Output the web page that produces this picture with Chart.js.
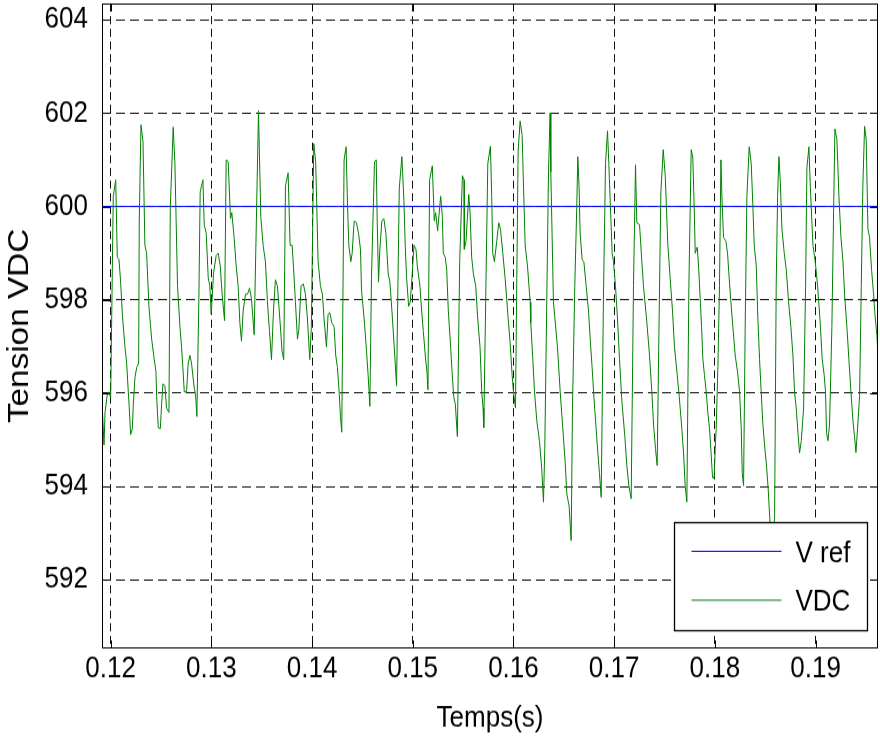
<!DOCTYPE html>
<html>
<head>
<meta charset="utf-8">
<script src="https://cdn.jsdelivr.net/npm/chart.js@4/dist/chart.umd.min.js"></script>
<style>
html,body{margin:0;padding:0;background:#fff;overflow:hidden}
#wrap{width:880px;height:737px;overflow:hidden;background:#fff}
canvas{display:block;transform:scaleY(1.1498);transform-origin:0 0}
</style>
</head>
<body>
<div id="wrap"><canvas id="c" width="880" height="641"></canvas></div>
<script>
// ---- data ----
const timeS = [
0.11917,0.11934,0.11944,0.11967,0.11983,0.12000,0.12026,0.12050,0.12066,0.12083,
0.12099,0.12116,0.12142,0.12159,0.12175,0.12185,0.12198,0.12215,0.12225,0.12241,
0.12258,0.12278,0.12284,0.12301,0.12321,0.12340,0.12357,0.12380,0.12407,0.12433,
0.12450,0.12456,0.12473,0.12493,0.12506,0.12519,0.12539,0.12555,0.12579,0.12592,
0.12621,0.12638,0.12664,0.12688,0.12704,0.12717,0.12731,0.12754,0.12770,0.12787,
0.12803,0.12830,0.12843,0.12856,0.12876,0.12889,0.12916,0.12929,0.12949,0.12969,
0.12985,0.12998,0.13008,0.13021,0.13048,0.13068,0.13088,0.13107,0.13131,0.13147,
0.13167,0.13190,0.13203,0.13226,0.13246,0.13266,0.13283,0.13299,0.13316,0.13339,
0.13359,0.13379,0.13398,0.13425,0.13468,0.13491,0.13514,0.13537,0.13557,0.13577,
0.13597,0.13617,0.13636,0.13656,0.13683,0.13702,0.13719,0.13736,0.13762,0.13782,
0.13802,0.13815,0.13835,0.13855,0.13868,0.13891,0.13914,0.13934,0.13954,0.13977,
0.13993,0.14017,0.14036,
0.14060,0.14083,0.14103,0.14119,0.14143,0.14159,0.14176,0.14196,0.14219,0.14235,
0.14252,0.14269,0.14282,0.14295,0.14318,0.14338,0.14352,0.14365,0.14385,0.14398,
0.14418,0.14441,0.14461,0.14481,0.14491,0.14517,0.14541,0.14557,0.14574,0.14590,
0.14620,0.14637,0.14647,0.14660,0.14673,0.14693,0.14713,0.14733,0.14756,0.14773,
0.14793,0.14816,0.14839,0.14866,0.14892,0.14912,0.14925,0.14939,0.14959,0.14975,
0.14992,0.15012,0.15032,0.15045,0.15071,0.15088,0.15104,0.15128,0.15141,0.15151,
0.15167,0.15194,0.15214,0.15227,0.15247,0.15277,0.15294,0.15303,0.15323,0.15337,
0.15353,0.15376,0.15390,0.15406,0.15423,0.15443,0.15466,0.15493,0.15509,0.15512,
0.15529,0.15556,0.15569,0.15585,0.15602,0.15625,0.15645,0.15668,0.15685,0.15698,
0.15705,0.15745,0.15771,0.15784,0.15794,0.15811,0.15834,0.15854,0.15871,0.15894,
0.15917,0.15944,0.15967,0.15987,0.16000,0.16020,0.16046,0.16066,0.16086,0.16116,
0.16139,0.16166,
0.16172,0.16192,0.16209,0.16232,0.16258,0.16281,0.16298,0.16311,0.16348,0.16364,
0.16371,0.16397,0.16437,0.16464,0.16490,0.16513,0.16530,0.16553,0.16573,0.16586,
0.16609,0.16629,0.16639,0.16652,0.16662,0.16682,0.16699,0.16722,0.16745,0.16762,
0.16781,0.16801,0.16821,0.16838,0.16854,0.16871,0.16894,0.16914,0.16934,0.16947,
0.16980,0.16993,0.17013,0.17033,0.17053,0.17076,0.17106,0.17126,0.17146,0.17169,
0.17192,0.17212,0.17225,0.17252,0.17275,0.17291,0.17325,0.17351,0.17374,0.17391,
0.17411,0.17427,0.17444,0.17464,0.17487,0.17507,0.17533,0.17556,0.17579,0.17599,
0.17623,0.17646,0.17672,0.17689,0.17705,0.17722,0.17742,0.17765,0.17781,0.17795,
0.17805,0.17825,0.17838,0.17854,
0.17868,0.17881,0.17897,0.17914,0.17930,0.17947,0.17960,0.17977,0.17993,0.18003,
0.18013,0.18030,0.18046,0.18060,0.18070,0.18086,0.18109,0.18126,0.18142,0.18159,
0.18179,0.18202,0.18225,0.18245,0.18262,0.18272,0.18285,0.18301,0.18318,0.18341,
0.18361,0.18377,0.18391,0.18411,0.18427,0.18444,0.18460,0.18477,0.18497,0.18513,
0.18530,0.18543,0.18563,0.18593,0.18609,0.18623,0.18636,0.18649,0.18666,0.18689,
0.18709,0.18732,0.18755,0.18775,0.18791,0.18808,0.18825,0.18841,0.18858,0.18881,
0.18901,0.18914,0.18934,0.18947,0.18974,0.18997,0.19020,0.19046,0.19066,0.19086,
0.19099,0.19109,0.19123,0.19139,0.19162,0.19179,0.19192,0.19212,0.19232,0.19252,
0.19272,0.19288,0.19311,0.19331,0.19351,0.19371,0.19387,0.19401,0.19417,0.19437,
0.19454,0.19470,0.19487,0.19503,0.19520,0.19536,0.19556,0.19576,0.19593,0.19609,
0.19626
];
const vdc = [
595.68,594.89,595.59,595.98,596.03,595.90,600.22,600.57,598.91,598.86,
598.38,597.69,596.99,596.64,596.03,595.68,595.11,595.24,595.76,596.33,
596.55,596.64,599.69,601.75,601.40,599.17,599.00,597.86,597.16,596.72,
596.46,595.94,595.26,595.24,595.76,596.20,596.16,595.68,595.59,599.96,
601.70,600.92,598.30,597.42,596.99,596.55,596.03,596.03,596.64,596.81,
596.64,596.11,595.98,595.50,598.03,600.31,600.57,599.61,599.43,598.47,
598.30,597.69,598.03,598.56,598.95,599.00,598.73,598.12,597.55,601.00,
600.96,599.74,599.87,599.34,598.73,598.30,597.51,597.12,597.77,598.12,
598.12,598.25,598.03,597.25,602.05,599.78,599.17,598.82,597.95,597.34,
596.72,597.77,598.43,598.30,597.51,596.90,596.72,600.44,600.72,599.17,
599.17,598.73,597.95,597.16,597.34,598.30,598.34,598.12,597.60,596.72,
597.42,601.35,600.96,
598.82,598.30,598.12,597.60,596.99,597.69,597.73,597.51,597.42,596.81,
596.55,596.03,595.50,595.17,601.00,601.28,600.04,599.17,598.82,599.00,
599.69,599.65,599.43,599.08,598.21,597.60,596.90,596.38,595.72,598.47,
600.96,601.00,599.69,598.38,599.08,599.69,599.74,599.43,598.56,598.38,
597.77,596.99,596.16,600.39,601.07,600.13,599.17,598.47,597.86,597.95,
598.47,599.17,599.08,598.73,598.30,597.77,597.34,596.72,596.46,596.07,
600.57,600.87,599.69,599.87,599.48,600.22,599.78,599.00,598.91,598.65,
597.77,596.99,596.46,595.94,595.76,595.07,598.82,600.66,600.57,599.08,
599.26,600.26,599.87,598.91,598.56,598.30,597.60,596.99,596.03,595.68,
595.26,600.92,601.29,600.22,599.00,598.82,599.26,599.65,599.52,599.00,
598.47,597.69,597.07,596.38,596.03,595.68,601.18,601.83,601.53,599.17,
598.73,597.95,
597.51,596.72,596.03,595.41,594.98,594.37,593.67,594.80,600.74,602.01,
600.74,597.95,596.99,596.03,595.24,594.54,593.84,593.58,592.84,595.68,
598.30,600.04,601.07,600.39,599.43,598.86,598.82,598.30,597.77,597.16,
596.55,595.85,595.24,594.72,594.28,593.77,598.12,600.92,601.62,600.92,
599.00,598.82,598.30,597.60,596.72,595.85,595.07,594.45,594.02,593.74,
598.30,600.89,599.65,599.61,598.82,598.30,597.51,596.81,596.03,595.33,
594.80,594.45,597.25,600.31,601.22,600.66,599.17,598.47,597.77,596.99,
596.46,595.94,595.24,594.72,594.02,593.67,598.30,601.22,601.05,599.96,
599.00,599.13,598.73,598.03,
597.42,596.72,596.38,596.03,595.59,595.24,594.80,594.19,594.19,594.80,
595.24,596.55,598.30,601.00,600.22,599.34,599.26,599.00,598.47,597.95,
597.42,596.81,596.46,596.03,595.24,594.28,594.02,597.42,600.22,601.28,
600.92,600.04,599.17,598.73,597.60,596.72,596.03,595.33,594.80,594.45,
593.93,593.41,592.71,593.32,598.30,600.22,601.07,600.57,599.52,599.00,
598.65,597.95,597.42,596.81,596.03,595.68,595.15,594.72,594.98,595.68,
598.30,600.83,601.28,600.48,599.17,598.82,598.30,597.51,596.72,596.38,
596.03,595.15,594.98,595.33,597.42,599.87,601.66,601.44,600.22,599.34,
598.82,598.12,597.42,596.72,596.03,595.41,595.07,594.73,595.24,595.94,
598.30,600.48,601.72,601.44,599.52,599.34,598.65,598.12,597.60,597.25,
596.55
];
const vrefTime = [0.119, 0.197];
const vrefValue = [600, 600];
const xTicks = [0.12, 0.13, 0.14, 0.15, 0.16, 0.17, 0.18, 0.19];
const yTicks = [592, 594, 596, 598, 600, 602, 604];
const seriesNames = ['V ref', 'VDC'];
const xTitle = 'Temps(s)';
const yTitle = 'Tension VDC';

// ---- styles ----
const FONT = "'Liberation Sans', Arial, Helvetica, sans-serif";
const BLUE = '#0000ff';
const GREEN = '#008000';

const frameAndLegend = {
  id: 'frameAndLegend',
  afterDraw(chart) {
    const {ctx, chartArea: a, scales: {x, y}} = chart;
    ctx.save();
    ctx.strokeStyle = '#000';
    ctx.lineWidth = 1;
    ctx.setLineDash([]);
    // inner tick marks on all four sides
    ctx.beginPath();
    xTicks.forEach(v => {
      const px = Math.round(x.getPixelForValue(v)) + 0.5;
      ctx.moveTo(px, a.bottom); ctx.lineTo(px, a.bottom - 7);
      ctx.moveTo(px, a.top); ctx.lineTo(px, a.top + 7);
    });
    yTicks.forEach(v => {
      const py = Math.round(y.getPixelForValue(v)) + 0.5;
      ctx.moveTo(a.left, py); ctx.lineTo(a.left + 8, py);
      ctx.moveTo(a.right, py); ctx.lineTo(a.right - 8, py);
    });
    ctx.stroke();
    // axes box
    ctx.strokeRect(Math.round(a.left) + 0.5, Math.round(a.top) + 0.5,
                   Math.round(a.right - a.left) - 1, Math.round(a.bottom - a.top) - 1);

    // legend box (inside plot, lower right)
    const w = 193, h = 94;
    const bx = Math.round(a.right - 11 - w) + 0.5;
    const by = Math.round(a.bottom - 16 - h) + 0.5;
    ctx.fillStyle = '#fff';
    ctx.fillRect(bx, by, w, h);
    ctx.lineWidth = 1.3;
    ctx.strokeRect(bx, by, w, h);
    const colors = [BLUE, GREEN];
    const rowY = [25, 67.5];
    const textY = [27, 69.5];
    ctx.lineWidth = 1;
    colors.forEach((c, i) => {
      ctx.strokeStyle = c;
      ctx.beginPath();
      ctx.moveTo(bx + 17, by + rowY[i]);
      ctx.lineTo(bx + 107, by + rowY[i]);
      ctx.stroke();
    });
    ctx.fillStyle = '#000';
    ctx.font = '26px ' + FONT;
    ctx.textAlign = 'left';
    ctx.textBaseline = 'middle';
    seriesNames.forEach((n, i) => ctx.fillText(n, bx + 121, by + textY[i]));
    ctx.restore();
  }
};

new Chart(document.getElementById('c'), {
  type: 'line',
  data: {
    datasets: [
      {
        label: seriesNames[0],
        data: vrefTime.map((t, i) => ({x: t, y: vrefValue[i]})),
        borderColor: BLUE, borderWidth: 1, pointRadius: 0, tension: 0, order: 1
      },
      {
        label: seriesNames[1],
        data: timeS.map((t, i) => ({x: t, y: vdc[i]})),
        borderColor: GREEN, borderWidth: 1, pointRadius: 0, tension: 0, order: 0
      }
    ]
  },
  options: {
    responsive: false,
    animation: false,
    devicePixelRatio: 1,
    layout: {padding: {top: 3, right: 2, left: 0, bottom: 0}},
    plugins: {legend: {display: false}, tooltip: {enabled: false}},
    scales: {
      x: {
        type: 'linear', position: 'bottom', min: 0.11914, max: 0.1962, z: 1,
        afterBuildTicks: s => { s.ticks = xTicks.map(v => ({value: v})); },
        afterFit: s => { s.height = 77; s.paddingLeft = 0; s.paddingRight = 0; },
        grid: {color: '#111', lineWidth: 1, drawTicks: false},
        border: {display: false, dash: [7, 4]},
        ticks: {
          autoSkip: false, maxRotation: 0, padding: 2, color: '#000',
          font: {family: FONT, size: 26},
          callback: v => Number(v).toFixed(2)
        },
        title: {display: true, text: xTitle, color: '#000',
                font: {family: FONT, size: 26}, padding: {top: 0, bottom: 1}}
      },
      y: {
        type: 'linear', position: 'left', min: 590.53, max: 604.35, z: 1,
        afterBuildTicks: s => { s.ticks = yTicks.map(v => ({value: v})); },
        afterFit: s => { s.width = 102; s.paddingTop = 0; s.paddingBottom = 0; },
        grid: {color: '#111', lineWidth: 1, drawTicks: false},
        border: {display: false, dash: [9, 5]},
        ticks: {
          autoSkip: false, padding: 14, color: '#000',
          font: {family: FONT, size: 26},
          callback: v => String(v)
        },
        title: {display: true, text: yTitle, color: '#000',
                font: {family: FONT, size: 29}, padding: {top: 3, bottom: 0}}
      }
    }
  },
  plugins: [frameAndLegend]
});
</script>
</body>
</html>
